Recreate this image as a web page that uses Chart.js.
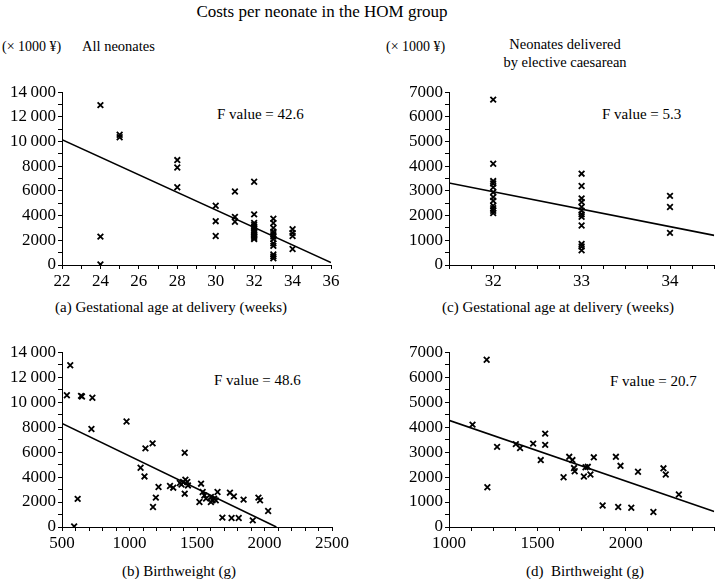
<!DOCTYPE html>
<html>
<head>
<meta charset="utf-8">
<script src="https://cdn.jsdelivr.net/npm/chart.js@4.4.1/dist/chart.umd.min.js"></script>
<style>
  body { margin: 0; background: #fff; width: 720px; height: 579px; position: relative; overflow: hidden;
         font-family: "Liberation Serif", "DejaVu Serif", serif; color: #000; }
  .t { position: absolute; white-space: nowrap; line-height: 1; }
  .c { transform: translateX(-50%); text-align: center; }
  canvas { position: absolute; }
</style>
</head>
<body>
<div class="t c" style="left:322px;top:3px;font-size:17px">Costs per neonate in the HOM group</div>

<div class="t" style="left:2px;top:40px;font-size:14px">(× 1000 ¥)</div>
<div class="t" style="left:82px;top:39px;font-size:14.5px">All neonates</div>
<div class="t" style="left:386px;top:40px;font-size:14px">(× 1000 ¥)</div>
<div class="t c" style="left:565px;top:37px;font-size:14.5px">Neonates delivered</div>
<div class="t c" style="left:565px;top:55px;font-size:14.5px">by elective caesarean</div>

<div class="t" style="left:217px;top:107px;font-size:15px">F value = 42.6</div>
<div class="t" style="left:602px;top:107px;font-size:15px">F value = 5.3</div>
<div class="t" style="left:214px;top:373px;font-size:15px">F value = 48.6</div>
<div class="t" style="left:610px;top:374px;font-size:15px">F value = 20.7</div>

<div class="t c" style="left:171px;top:300px;font-size:15px">(a) Gestational age at delivery (weeks)</div>
<div class="t c" style="left:558px;top:300px;font-size:15px">(c) Gestational age at delivery (weeks)</div>
<div class="t c" style="left:179px;top:564px;font-size:15px">(b) Birthweight (g)</div>
<div class="t c" style="left:585px;top:564px;font-size:15px">(d)&nbsp; Birthweight (g)</div>

<canvas id="chartA" width="345" height="210" style="left:0;top:80px"></canvas>
<canvas id="chartC" width="360" height="210" style="left:360px;top:80px"></canvas>
<canvas id="chartB" width="351" height="212" style="left:0;top:340px"></canvas>
<canvas id="chartD" width="360" height="212" style="left:360px;top:340px"></canvas>

<script>
// (a) all neonates, gestational age (weeks) vs cost (x 1000 yen)
const gaWeeksAll = [24, 24, 24, 25, 25, 28, 28, 28, 30, 30, 30, 31, 31, 31,
  32, 32, 32, 32, 32, 32, 32, 32, 32, 32, 32, 32, 32,
  33, 33, 33, 33, 33, 33, 33, 33, 33, 33, 33, 33,
  34, 34, 34, 34];
const costByGaAll = [12950, 2300, 50, 10550, 10350, 8500, 7900, 6300, 4800, 3550, 2350, 5950, 3900, 3500,
  6750, 4100, 3400, 3250, 3100, 2950, 2800, 2650, 2500, 2400, 2300, 2200, 2100,
  3750, 3400, 3000, 2700, 2500, 2300, 2100, 1750, 1550, 850, 700, 550,
  2900, 2600, 2350, 1300];
const trendGaAllX = [22, 36];
const trendGaAllY = [10150, 200];

// (c) elective caesarean, gestational age vs cost
const gaWeeksCs = [32, 32, 32, 32, 32, 32, 32, 32, 32, 32, 32, 32,
  33, 33, 33, 33, 33, 33, 33, 33, 33, 33, 33, 33,
  34, 34, 34];
const costByGaCs = [6700, 4100, 3400, 3300, 3150, 2950, 2750, 2600, 2400, 2300, 2200, 2100,
  3700, 3200, 2700, 2550, 2350, 2200, 2050, 1950, 1600, 850, 750, 600,
  2800, 2350, 1300];
const trendGaCsX = [31.5, 34.5];
const trendGaCsY = [3320, 1200];

// (b) all neonates, birthweight (g) vs cost
const bwAll = [561, 536, 641, 648, 725, 718, 978, 1118, 1171, 1082, 1111, 1409, 616, 590,
  1174, 1195, 1215, 1300, 1324, 1373, 1385, 1397, 1414, 1428, 1433, 1409, 1530, 1542,
  1555, 1567, 1518, 1603, 1615, 1627, 1603, 1639, 1652, 1744, 1773, 1845, 1955, 1967,
  2027, 1688, 1756, 1809, 1913];
const costByBwAll = [12950, 10550, 10500, 10450, 10350, 7850, 8450, 6300, 6700, 4750, 4050, 5950, 2250, 50,
  1600, 2350, 3200, 3280, 3150, 3520, 3400, 3600, 3790, 3600, 3330, 2670, 3470, 2800,
  2530, 2270, 2000, 2400, 2130, 2270, 2000, 2130, 2800, 2750, 2450, 2190, 2350, 2130,
  1280, 750, 720, 720, 530];
const trendBwAllX = [500, 2088];
const trendBwAllY = [8300, 0];

// (d) elective caesarean, birthweight vs cost
const bwCs = [1213, 1133, 1217, 1272, 1378, 1402, 1476, 1519, 1544, 1544, 1648, 1680, 1698, 1707, 1711,
  1763, 1772, 1785, 1800, 1819, 1869, 1944, 1970, 1957, 2031, 2069, 2156, 2213, 2226, 2300];
const costByBwCs = [6700, 4100, 1590, 3210, 3320, 3160, 3340, 2680, 3740, 3290, 1990, 2810, 2680, 2360, 2230,
  2020, 2390, 2410, 2100, 2790, 860, 2810, 2450, 800, 770, 2210, 600, 2350, 2100, 1300];
const trendBwCsX = [1000, 2500];
const trendBwCsY = [4270, 620];

const FONT = "'Liberation Serif', 'DejaVu Serif', serif";

function pts(xs, ys) {
  return xs.map((x, i) => ({ x: x, y: ys[i] }));
}

function fmtCost(v) {
  if (v >= 10000) {
    const s = String(v);
    return s.slice(0, s.length - 3) + "\u2009" + s.slice(-3);
  }
  return String(v);
}

function axis(min, max, step, showLabel, fixed) {
  return {
    type: "linear",
    min: min,
    max: max,
    afterFit: fixed,
    border: { display: true, color: "#000", width: 1 },
    grid: { drawOnChartArea: false, drawTicks: true, tickLength: 4, color: "#000", lineWidth: 1 },
    ticks: {
      stepSize: step,
      autoSkip: false,
      maxRotation: 0,
      padding: 2,
      color: "#000",
      font: { family: FONT, size: 17 },
      callback: v => (showLabel(v) ? fmtCost(v) : "")
    }
  };
}

function makePanel(id, xs, ys, lx, ly, xAxis, yAxis, padding) {
  new Chart(document.getElementById(id), {
    type: "scatter",
    data: {
      datasets: [
        {
          data: pts(xs, ys),
          pointStyle: "crossRot",
          pointRadius: 4,
          pointBorderWidth: 1.8,
          borderColor: "#000",
          backgroundColor: "#000"
        },
        {
          data: pts(lx, ly),
          showLine: true,
          borderColor: "#000",
          borderWidth: 1.6,
          pointRadius: 0
        }
      ]
    },
    options: {
      responsive: false,
      animation: false,
      devicePixelRatio: 1,
      layout: { padding: padding },
      plugins: { legend: { display: false }, tooltip: { enabled: false }, title: { display: false } },
      scales: { x: xAxis, y: yAxis }
    }
  });
}

const yWidth = w => scale => { scale.width = w; };
const xHeight = h => scale => { scale.height = h; };

makePanel("chartA", gaWeeksAll, costByGaAll, trendGaAllX, trendGaAllY,
  axis(22, 36, 1, v => v % 2 === 0, xHeight(25)),
  axis(0, 14000, 1000, v => v % 2000 === 0, yWidth(62)),
  { top: 11, right: 14, left: 0, bottom: 0 });

makePanel("chartC", gaWeeksCs, costByGaCs, trendGaCsX, trendGaCsY,
  axis(31.5, 34.5, 0.25, v => Number.isInteger(v), xHeight(25)),
  axis(0, 7000, 500, v => v % 1000 === 0, yWidth(89)),
  { top: 11, right: 0, left: 0, bottom: 0 });

makePanel("chartB", bwAll, costByBwAll, trendBwAllX, trendBwAllY,
  axis(500, 2500, 100, v => v % 500 === 0, xHeight(25)),
  axis(0, 14000, 1000, v => v % 2000 === 0, yWidth(62)),
  { top: 12, right: 17, left: 0, bottom: 0 });

makePanel("chartD", bwCs, costByBwCs, trendBwCsX, trendBwCsY,
  axis(1000, 2500, 125, v => v % 500 === 0 && v < 2500, xHeight(25)),
  axis(0, 7000, 500, v => v % 1000 === 0, yWidth(89)),
  { top: 11, right: 0, left: 0, bottom: 0 });
</script>
</body>
</html>
